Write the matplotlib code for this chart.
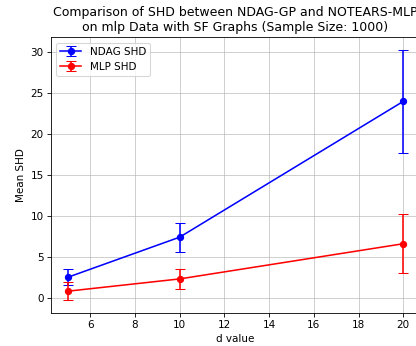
import matplotlib
matplotlib.use("Agg")
import matplotlib.pyplot as plt

d_values = [5, 10, 20]
ndag_mean = [2.5, 7.4, 24.0]
ndag_std = [1.0, 1.75, 6.3]
mlp_mean = [0.8, 2.3, 6.6]
mlp_std = [1.1, 1.25, 3.6]

# drawn at 75 dpi so the default sizes scale down like the reference
fig = plt.figure(figsize=(417 / 75, 346 / 75), dpi=75)
ax = fig.add_axes([0.1223, 0.0962, 0.885, 0.796])

ax.errorbar(d_values, ndag_mean, yerr=ndag_std, fmt='-o', color='blue',
            capsize=5, label='NDAG SHD')
ax.errorbar(d_values, mlp_mean, yerr=mlp_std, fmt='-o', color='red',
            capsize=5, label='MLP SHD')

ax.set_xlabel('d value')
ax.set_ylabel('Mean SHD')
ax.set_title('Comparison of SHD between NDAG-GP and NOTEARS-MLP\non mlp Data with SF Graphs (Sample Size: 1000)')
ax.grid(True, alpha=0.7)
ax.legend(loc='upper left')

plt.savefig('out.png', dpi=75)
